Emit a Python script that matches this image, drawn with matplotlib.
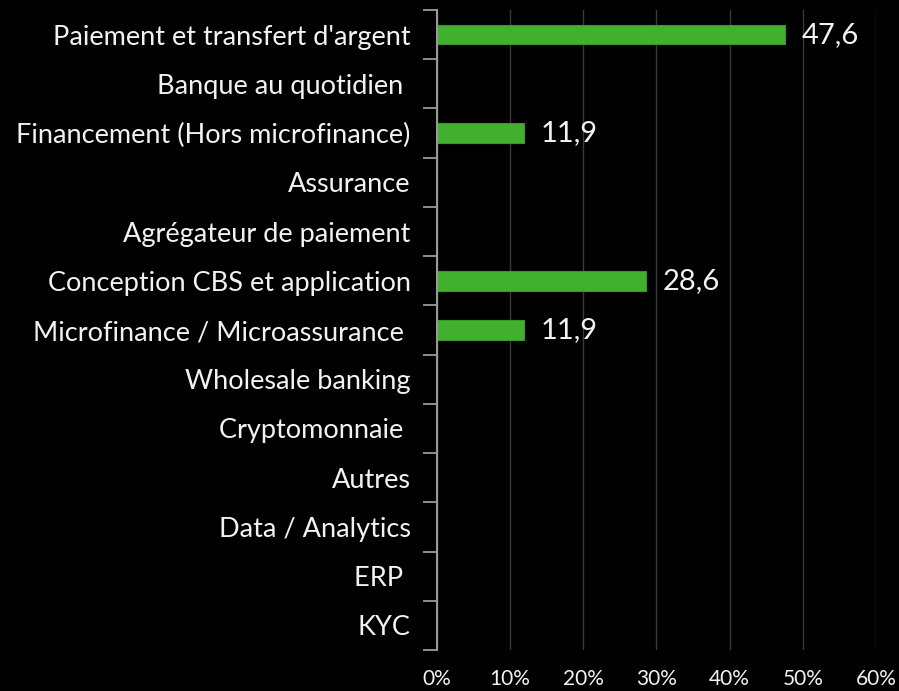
import numpy as np
import matplotlib
matplotlib.use("Agg")
import matplotlib.pyplot as plt
from matplotlib.ticker import FixedLocator, PercentFormatter

plt.rcParams["font.family"] = ["Lato", "DejaVu Sans"]

categories = [
    "Paiement et transfert d'argent",
    "Banque au quotidien ",
    "Financement (Hors microfinance)",
    "Assurance",
    "Agrégateur de paiement",
    "Conception CBS et application",
    "Microfinance / Microassurance ",
    "Wholesale banking",
    "Cryptomonnaie ",
    "Autres",
    "Data / Analytics",
    "ERP ",
    "KYC",
]
values = [47.6, 0, 11.9, 0, 0, 28.6, 11.9, 0, 0, 0, 0, 0, 0]
value_labels = ["47,6", "", "11,9", "", "", "28,6", "11,9", "", "", "", "", "", ""]
x_ticks = [0, 10, 20, 30, 40, 50, 60]

BG = "black"
GREEN = "#42b02f"
TXT = "#f2f2f2"

fig = plt.figure(figsize=(8.99, 6.91), dpi=100, facecolor=BG)
ax = fig.add_axes([0.486, 0.0593, 0.4885, 0.9262], facecolor=BG)

y = np.arange(len(categories))
ax.barh(y, values, height=0.4, color=GREEN, edgecolor="#379a27", lw=0.8, zorder=3)
for yi, v, lab in zip(y, values, value_labels):
    if lab:
        ax.text(v + 2.3, yi, lab, va="center", ha="left", color=TXT, fontsize=21)

ax.set_ylim(len(categories) - 0.5, -0.5)
ax.set_xlim(0, 60)
ax.set_yticks(y)
ax.set_yticklabels(categories, color=TXT, fontsize=19.5)
ax.yaxis.set_minor_locator(FixedLocator(np.arange(-0.5, len(categories), 1)))
ax.tick_params(axis="y", which="major", length=0, pad=19)
ax.tick_params(axis="y", which="minor", length=10, width=1.3, color="#9a9a9a")

ax.set_xticks(x_ticks)
ax.xaxis.set_major_formatter(PercentFormatter(decimals=0))
ax.tick_params(axis="x", length=0, pad=14, labelsize=15, labelcolor=TXT)
ax.grid(axis="x", color="#3a3a3a", lw=1, zorder=0)

for s in ("top", "right", "bottom"):
    ax.spines[s].set_visible(False)
ax.spines["left"].set_color("#9a9a9a")
ax.spines["left"].set_linewidth(1.5)
ax.spines["left"].set_zorder(4)

fig.savefig("out.png", dpi=100, facecolor=BG)
